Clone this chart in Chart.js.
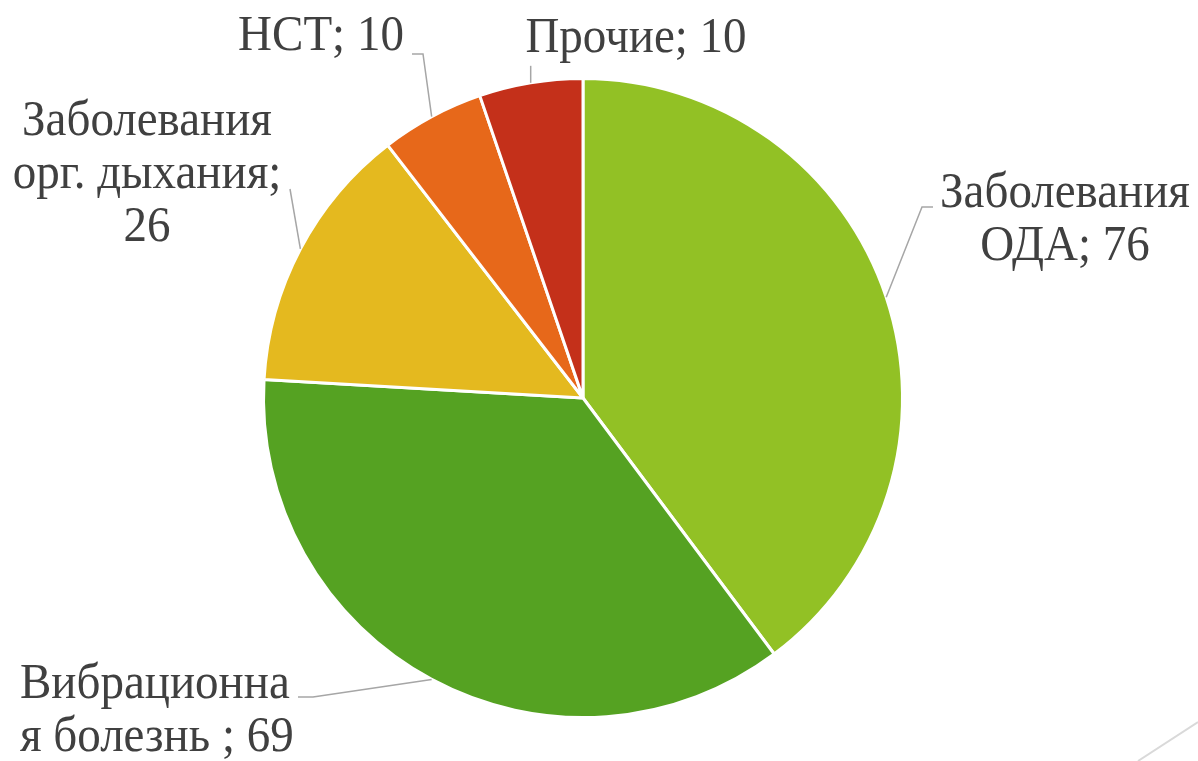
<!DOCTYPE html>
<html>
<head>
<meta charset="utf-8">
<script src="https://cdn.jsdelivr.net/npm/chart.js@4"></script>
<style>
  html, body { margin: 0; padding: 0; background: #ffffff; }
  #grafica { display: block; }
</style>
</head>
<body>
<canvas id="grafica" width="1198" height="761"></canvas>
<script>
// данные диаграммы
const categorias = ["Заболевания ОДА", "Вибрационная болезнь ", "Заболевания орг. дыхания", "НСТ", "Прочие"];
const valores = [76, 69, 26, 10, 10];
const colores = ["#92C125", "#55A222", "#E4B91F", "#E7681A", "#C4301A"];

// где подписи и выноски (только оформление)
const layoutEtiquetas = [
  { breaks: [11], align: "center", x: 1065, y: 207, codo: [922, 207], fin: [933, 207] },
  { breaks: [11], align: "left", x: 20, y: 698, codo: [313, 697], fin: [298, 697] },
  { breaks: [11, 25], align: "center", x: 147, y: 135, codo: null, fin: [290, 189] },
  { breaks: [], align: "center", x: 321, y: 50, codo: [423, 54], fin: [412, 54] },
  { breaks: [], align: "center", x: 636, y: 52, codo: null, fin: null }
];

const fuente = "47px 'Liberation Serif', 'Times New Roman', serif";

function partirTexto(txt, breaks) {
  let lineas = [];
  let desde = 0;
  breaks.forEach(b => {
    lineas.push(txt.slice(desde, b).trim());
    desde = b;
  });
  lineas.push(txt.slice(desde).trim());
  return lineas;
}

const etiquetasPlugin = {
  id: "etiquetas",
  afterDraw(chart) {
    const ctx = chart.ctx;
    const meta = chart.getDatasetMeta(0);
    ctx.save();

    meta.data.forEach((arc, i) => {
      const p = arc.getProps(["x", "y", "startAngle", "endAngle", "outerRadius"], true);
      const mid = (p.startAngle + p.endAngle) / 2;
      const ex = p.x + Math.cos(mid) * p.outerRadius;
      const ey = p.y + Math.sin(mid) * p.outerRadius;
      const lay = layoutEtiquetas[i];

      // выноска
      ctx.strokeStyle = "#A6A6A6";
      ctx.lineWidth = 1.5;
      ctx.beginPath();
      ctx.moveTo(ex, ey);
      if (lay.codo) ctx.lineTo(lay.codo[0], lay.codo[1]);
      if (lay.fin) ctx.lineTo(lay.fin[0], lay.fin[1]);
      else ctx.lineTo(ex, ey - 17);
      ctx.stroke();

      // текст
      const texto = categorias[i] + "; " + valores[i];
      const lineas = partirTexto(texto, lay.breaks);
      ctx.fillStyle = "#404040";
      ctx.font = fuente;
      ctx.textAlign = lay.align;
      ctx.textBaseline = "alphabetic";
      lineas.forEach((l, k) => {
        ctx.save();
        ctx.translate(lay.x, lay.y + k * 53);
        ctx.scale(1, 1.09);
        ctx.fillText(l, 0, 0);
        ctx.restore();
      });
    });

    // линия в углу
    ctx.strokeStyle = "#D9D9D9";
    ctx.lineWidth = 2;
    ctx.beginPath();
    ctx.moveTo(1138, 761);
    ctx.lineTo(1198, 722);
    ctx.stroke();

    ctx.restore();
  }
};

function dibujar() {
  new Chart(document.getElementById("grafica"), {
    type: "pie",
    data: {
      labels: categorias,
      datasets: [{
        data: valores,
        backgroundColor: colores,
        borderColor: "#ffffff",
        borderWidth: 3
      }]
    },
    options: {
      responsive: false,
      animation: false,
      layout: { padding: { left: 262, right: 294, top: 77, bottom: 42 } },
      plugins: {
        legend: { display: false },
        tooltip: { enabled: false }
      }
    },
    plugins: [etiquetasPlugin]
  });
}

document.fonts.load(fuente, "Заболевания").then(dibujar, dibujar);
</script>
</body>
</html>
